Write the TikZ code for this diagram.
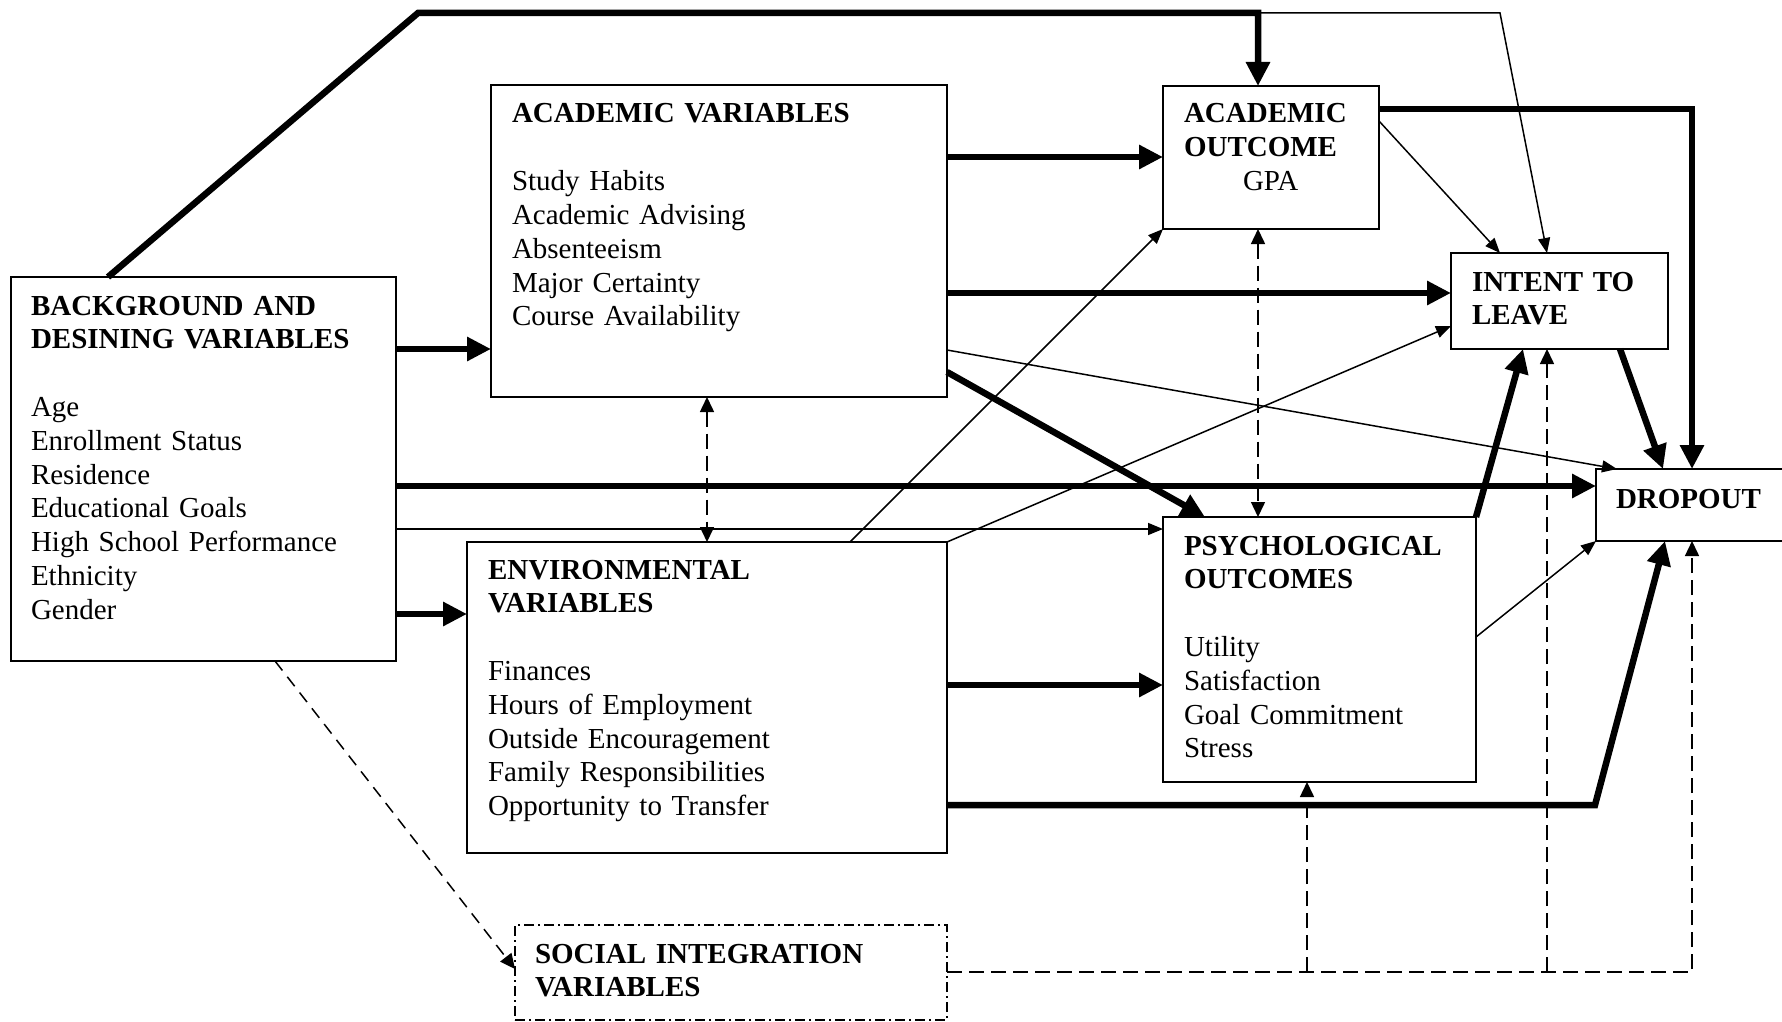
\documentclass[tikz,border=0pt]{standalone}
\usepackage{fontspec}
\setmainfont{Liberation Serif}
\usetikzlibrary{arrows.meta}

\begin{document}
\begin{tikzpicture}[x=1pt,y=-1pt,
  box/.style={draw,line width=1.5pt,inner sep=0pt,outer sep=0pt,anchor=north west},
  lbl/.style={anchor=base west,inner sep=0pt,outer sep=0pt,align=left,text width=440pt,
              font=\fontsize{29}{33.8}\selectfont},
  heavy/.style={line width=6.5pt,line join=miter,-{Triangle[length=24pt,width=23pt]}},
  light/.style={line width=1.5pt,-{Triangle[length=15pt,width=12pt]}},
  brokenarr/.style={line width=1.5pt,dash pattern=on 15pt off 7pt,-{Triangle[length=15pt,width=14pt]}},
]
\useasboundingbox (0,0) rectangle (1782,1022);

% ---- boxes ----
\node[box,minimum width=385pt,minimum height=384pt] (bg)   at (11,277)  {};
\node[box,minimum width=456pt,minimum height=312pt] (acv)  at (491,85)  {};
\node[box,minimum width=480pt,minimum height=311pt] (env)  at (467,542) {};
\node[box,minimum width=216pt,minimum height=143pt] (ao)   at (1163,86) {};
\node[box,minimum width=217pt,minimum height=96pt]  (itl)  at (1451,253) {};
\node[box,minimum width=220pt,minimum height=72pt]  (drop) at (1596,469) {};
\node[box,minimum width=313pt,minimum height=265pt] (psy)  at (1163,517) {};
\node[box,dash pattern=on 10pt off 4pt on 2pt off 4pt,
      minimum width=432pt,minimum height=95pt]      (soc)  at (515,925) {};

% ---- box texts ----
\node[lbl] (bgtext) at (31,315) {\textbf{BACKGROUND AND}\\ \textbf{DESINING VARIABLES}\\[33.8pt]
  Age\\ Enrollment Status\\ Residence\\ Educational Goals\\ High School Performance\\ Ethnicity\\ Gender};
\node[lbl] (acvtext) at (512,123) {\textbf{ACADEMIC VARIABLES}\\[33.8pt]
  Study Habits\\ Academic Advising\\ Absenteeism\\ Major Certainty\\ Course Availability};
\node[lbl] (envtext) at (488,579) {\textbf{ENVIRONMENTAL}\\ \textbf{VARIABLES}\\[33.8pt]
  Finances\\ Hours of Employment\\ Outside Encouragement\\ Family Responsibilities\\ Opportunity to Transfer};
\node[lbl] (aotext) at (1184,123) {\textbf{ACADEMIC}\\ \textbf{OUTCOME}\\ \hspace*{59pt}GPA};
\node[lbl] (itltext) at (1472,291) {\textbf{INTENT TO}\\ \textbf{LEAVE}};
\node[lbl] (droptext) at (1616,508) {\textbf{DROPOUT}};
\node[lbl] (psytext) at (1184,555) {\textbf{PSYCHOLOGICAL}\\ \textbf{OUTCOMES}\\[33.8pt]
  Utility\\ Satisfaction\\ Goal Commitment\\ Stress};
\node[lbl] (soctext) at (535,963) {\textbf{SOCIAL INTEGRATION}\\ \textbf{VARIABLES}};

% ---- routing helpers ----
\coordinate (bend1) at (418,13);
\coordinate (split) at (1258,13);
\coordinate (bend2) at (1500,13);
\coordinate (yA) at (0,349);  \coordinate (yB) at (0,486);
\coordinate (yC) at (0,529);  \coordinate (yD) at (0,614);
\coordinate (yE) at (0,157);  \coordinate (yF) at (0,293);
\coordinate (yG) at (0,685);  \coordinate (yH) at (0,805);
\coordinate (yI) at (0,109);  \coordinate (yJ) at (0,972);
\coordinate (yK) at (0,969);  \coordinate (yL) at (0,350);
\coordinate (yM) at (0,372);  \coordinate (yN) at (0,326);
\coordinate (yO) at (0,121);  \coordinate (yP) at (0,637);
\coordinate (xA) at (108,0);  \coordinate (xB) at (707,0);
\coordinate (xD) at (1547,0); \coordinate (xE) at (1692,0);
\coordinate (xF) at (1307,0); \coordinate (xG) at (1595,0);
\coordinate (xH) at (275,0);  \coordinate (xI) at (1617,0);
\coordinate (xJ) at (1205,0); \coordinate (xK) at (850,0);
\coordinate (xL) at (1665,0); \coordinate (xN) at (1620,0);
\coordinate (xO) at (1663,0); \coordinate (xP) at (1523,0);

% ---- background variables ----
\draw[heavy] (bg.north -| xA) -- (bend1) -- (split) -- (ao.north -| split);
\draw[light] (split) -- (bend2) -- (itl.north -| xD);
\draw[heavy] (bg.east |- yA) -- (acv.west |- yA);
\draw[heavy] (bg.east |- yB) -- (drop.west |- yB);
\draw[light] (bg.east |- yC) -- (psy.west |- yC);
\draw[heavy] (bg.east |- yD) -- (env.west |- yD);
\draw[brokenarr,dash pattern=on 12pt off 8pt] (bg.south -| xH) -- (soc.west |- yK);

% ---- academic variables ----
\draw[heavy] (acv.east |- yE) -- (ao.west |- yE);
\draw[heavy] (acv.east |- yF) -- (itl.west |- yF);
\draw[light] (acv.east |- yL) -- (drop.north -| xI);
\draw[heavy] (acv.east |- yM) -- (psy.north -| xJ);
\draw[brokenarr,{Triangle[length=15pt,width=14pt]}-{Triangle[length=15pt,width=14pt]}]
  (acv.south -| xB) -- (env.north -| xB);

% ---- environmental variables ----
\draw[light] (env.north -| xK) -- (ao.south west);
\draw[light] (env.north east) -- (itl.west |- yN);
\draw[heavy] (env.east |- yG) -- (psy.west |- yG);
\draw[heavy] (env.east |- yH) -- (xG |- yH) -- (drop.south -| xL);

% ---- outcomes ----
\draw[brokenarr,{Triangle[length=15pt,width=14pt]}-{Triangle[length=15pt,width=14pt]}]
  (ao.south -| split) -- (psy.north -| split);
\draw[light] (ao.east |- yO) -- (itl.north -| bend2);
\draw[heavy] (ao.east |- yI) -- (xE |- yI) -- (drop.north -| xE);
\draw[heavy] (itl.south -| xN) -- (drop.north -| xO);
\draw[heavy] (psy.north east) -- (itl.south -| xP);
\draw[light] (psy.east |- yP) -- (drop.south west);

% ---- social integration ----
\draw[brokenarr] (soc.east |- yJ) -- (xE |- yJ) -- (drop.south -| xE);
\draw[brokenarr] (xF |- yJ) -- (psy.south -| xF);
\draw[brokenarr] (xD |- yJ) -- (itl.south -| xD);
\end{tikzpicture}
\end{document}
